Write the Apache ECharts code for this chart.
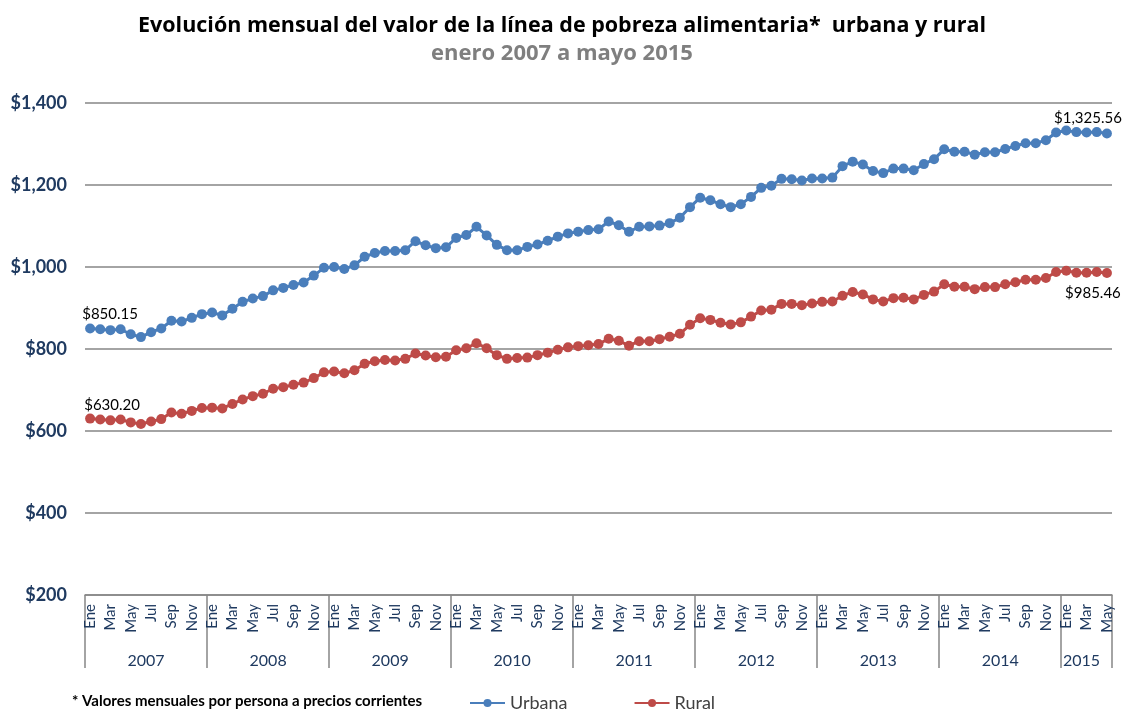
<!DOCTYPE html>
<html>
<head>
<meta charset="utf-8">
<script src="https://cdn.jsdelivr.net/npm/echarts@6/dist/echarts.min.js"></script>
<style>
html, body { margin: 0; padding: 0; background: #fff; }
#main { width: 1124px; height: 710px; }
</style>
</head>
<body>
<div id="main"></div>
<script>
// meses y años del eje
var mesesNombre = ['Ene', 'Feb', 'Mar', 'Abr', 'May', 'Jun', 'Jul', 'Ago', 'Sep', 'Oct', 'Nov', 'Dic'];
var anios = ['2007', '2008', '2009', '2010', '2011', '2012', '2013', '2014', '2015'];
var mesesPorAnio = [12, 12, 12, 12, 12, 12, 12, 12, 5];

// valores (pesos)
var urbana = [
  850.15, 848, 846, 848, 836, 829, 841, 850, 869, 867, 876, 885,
  889, 882, 898, 915, 923, 929, 943, 949, 956, 962, 979, 998,
  1000, 995, 1004, 1025, 1034, 1039, 1039, 1041, 1063, 1053, 1046, 1048,
  1071, 1078, 1098, 1077, 1054, 1041, 1041, 1049, 1055, 1064, 1074, 1082,
  1086, 1090, 1092, 1111, 1102, 1086, 1098, 1099, 1101, 1107, 1120, 1146,
  1169, 1163, 1153, 1146, 1153, 1171, 1193, 1198, 1215, 1214, 1211, 1216,
  1216, 1218, 1246, 1257, 1250, 1234, 1229, 1240, 1240, 1236, 1251, 1263,
  1287, 1281, 1281, 1274, 1280, 1280, 1288, 1295, 1302, 1302, 1309, 1328,
  1333, 1329, 1328, 1329, 1325.56
];
var rural = [
  630.20, 628, 626, 628, 621, 617, 623, 629, 645, 642, 649, 656,
  657, 655, 666, 677, 685, 691, 703, 707, 713, 718, 729, 743,
  745, 741, 748, 764, 770, 773, 772, 776, 789, 784, 780, 781,
  797, 802, 814, 802, 785, 776, 778, 779, 785, 791, 798, 804,
  807, 809, 812, 825, 820, 808, 819, 819, 824, 830, 837, 859,
  875, 871, 864, 860, 865, 879, 894, 896, 910, 910, 907, 911,
  915, 916, 930, 939, 933, 921, 916, 924, 925, 921, 932, 940,
  958, 952, 952, 946, 951, 951, 958, 963, 969, 969, 973, 988,
  991, 986, 986, 988, 985.46
];
var yTicks = { min: 200, max: 1400, interval: 200 };

var fuente = 'Lato, "Open Sans", sans-serif';
var fuenteTitulo = '"Open Sans", Lato, sans-serif';
var colorEje = '#1f3a60';

// categorias mes a mes y etiquetas de año
var meses = [];
var aniosCat = [];
for (var a = 0; a < anios.length; a++) {
  var centro = Math.floor(mesesPorAnio[a] / 2);
  for (var m = 0; m < mesesPorAnio[a]; m++) {
    meses.push(mesesNombre[m]);
    aniosCat.push(m === centro ? anios[a] : '');
  }
}

function pesos(v) {
  return '$' + v.toFixed(2).replace(/\B(?=(\d{3})+(?!\d))/g, ',');
}

var ultimo = urbana.length - 1;
var dataUrbana = urbana.map(function (v, i) {
  if (i === 0) return { value: v, label: { show: true, position: 'top', offset: [20, 3] } };
  if (i === ultimo) return { value: v, label: { show: true, position: 'top', offset: [-19, 2] } };
  return v;
});
var dataRural = rural.map(function (v, i) {
  if (i === 0) return { value: v, label: { show: true, position: 'top', offset: [22, 4] } };
  if (i === ultimo) return { value: v, label: { show: true, position: 'bottom', offset: [-14, 3] } };
  return v;
});

var myChart = echarts.init(document.getElementById('main'), null, { renderer: 'canvas' });
var option = {
  animation: false,
  textStyle: { fontFamily: fuente },
  title: [
    {
      text: 'Evolución mensual del valor de la línea de pobreza alimentaria*  urbana y rural',
      subtext: 'enero 2007 a mayo 2015',
      left: 'center',
      top: 10,
      itemGap: 6,
      textStyle: { fontFamily: fuenteTitulo, fontSize: 21.5, fontWeight: 'bold', color: '#000' },
      subtextStyle: { fontFamily: fuenteTitulo, fontSize: 22, fontWeight: 'bold', color: '#7f7f7f' }
    },
    {
      text: '* Valores mensuales por persona a precios corrientes',
      left: 67,
      top: 689,
      textStyle: { fontFamily: fuente, fontSize: 15, fontWeight: 'bold', color: '#000' }
    }
  ],
  legend: {
    data: ['Urbana', 'Rural'],
    left: 464,
    top: 689,
    itemGap: 66,
    itemWidth: 35,
    itemHeight: 10,
    textStyle: { fontFamily: fuente, fontSize: 18, color: '#404040' }
  },
  grid: { left: 85, right: 12, top: 103, bottom: 115, containLabel: false },
  xAxis: [
    {
      type: 'category',
      data: meses,
      boundaryGap: true,
      axisLine: { lineStyle: { color: '#868686', width: 1.5 } },
      axisTick: {
        show: true,
        length: 73,
        interval: function (i) { return i % 12 === 0; },
        lineStyle: { color: '#868686', width: 1.5 }
      },
      axisLabel: {
        interval: 1,
        rotate: 90,
        margin: 9,
        fontSize: 15,
        color: colorEje,
        fontFamily: fuente
      }
    },
    {
      type: 'category',
      data: aniosCat,
      position: 'bottom',
      offset: 55,
      boundaryGap: true,
      axisLine: { show: false },
      axisTick: { show: false },
      axisLabel: {
        interval: 0,
        margin: 3,
        fontSize: 16,
        color: colorEje,
        fontFamily: fuente,
        padding: [0, 10, 0, 0]
      }
    }
  ],
  yAxis: {
    type: 'value',
    min: yTicks.min,
    max: yTicks.max,
    interval: yTicks.interval,
    axisLine: { show: false },
    axisTick: { show: false },
    splitLine: { lineStyle: { color: '#868686', width: 1.5 } },
    axisLabel: {
      margin: 18,
      fontSize: 18,
      fontWeight: 'bold',
      color: colorEje,
      fontFamily: fuente,
      formatter: function (v) { return '$' + v.toString().replace(/\B(?=(\d{3})+(?!\d))/g, ','); }
    }
  },
  series: [
    {
      name: 'Urbana',
      type: 'line',
      data: dataUrbana,
      symbol: 'circle',
      symbolSize: 10,
      showAllSymbol: true,
      color: '#4a7ebb',
      lineStyle: { width: 3, color: '#4a7ebb' },
      itemStyle: { color: '#4a7ebb' },
      label: {
        show: false,
        fontSize: 15,
        color: '#000',
        fontFamily: fuente,
        formatter: function (p) { return pesos(p.value); }
      }
    },
    {
      name: 'Rural',
      type: 'line',
      data: dataRural,
      symbol: 'circle',
      symbolSize: 10,
      showAllSymbol: true,
      color: '#be4b48',
      lineStyle: { width: 3, color: '#be4b48' },
      itemStyle: { color: '#be4b48' },
      label: {
        show: false,
        fontSize: 15,
        color: '#000',
        fontFamily: fuente,
        formatter: function (p) { return pesos(p.value); }
      }
    }
  ]
};
myChart.setOption(option, true);
</script>
</body>
</html>
